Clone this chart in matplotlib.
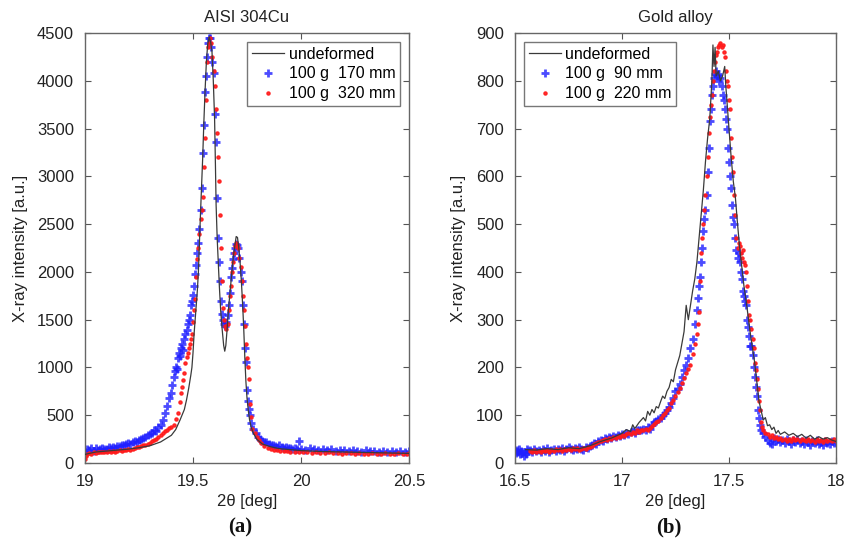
import matplotlib
matplotlib.use("Agg")
import matplotlib.pyplot as plt
import numpy as np

plt.rcParams['font.family'] = ['Liberation Sans', 'DejaVu Sans']

# AISI 304Cu: (2theta, intensity)
steel_undeformed = np.array([
    (19.00,90),(19.05,115),(19.10,125),(19.15,135),(19.20,145),(19.25,160),(19.30,180),(19.35,220),(19.40,290),(19.42,350),
    (19.44,450),(19.46,560),(19.47,660),(19.48,780),(19.49,920),(19.495,1000),(19.50,1150),(19.505,1350),(19.51,1500),(19.52,1800),
    (19.525,2000),(19.532,2450),(19.538,2800),(19.545,3200),(19.55,3550),(19.556,3900),(19.562,4200),(19.568,4380),(19.575,4460),(19.582,4400),
    (19.588,4300),(19.594,4000),(19.60,3600),(19.604,3100),(19.607,2700),(19.612,2350),(19.617,2100),(19.622,1850),(19.628,1600),(19.635,1400),
    (19.642,1230),(19.647,1170),(19.652,1230),(19.658,1400),(19.664,1600),(19.67,1750),(19.676,1900),(19.682,2050),(19.688,2180),(19.694,2280),
    (19.70,2370),(19.706,2360),(19.712,2250),(19.718,2100),(19.724,1900),(19.73,1650),(19.735,1400),(19.74,1100),(19.745,850),(19.75,680),
    (19.756,550),(19.762,450),(19.77,370),(19.78,310),(19.795,250),(19.82,200),(19.86,170),(19.90,150),(19.95,140),(20.00,130),
    (20.10,120),(20.20,115),(20.30,110),(20.40,105),(20.50,100)])

steel_170mm = np.array([
    (19.00,120),(19.01,150),(19.02,140),(19.03,160),(19.04,130),(19.05,155),(19.06,140),(19.07,150),(19.08,160),(19.09,145),
    (19.10,150),(19.11,165),(19.12,155),(19.13,170),(19.14,160),(19.15,175),(19.16,180),(19.17,190),(19.18,185),(19.19,200),
    (19.20,210),(19.21,195),(19.22,215),(19.23,225),(19.24,220),(19.25,240),(19.26,250),(19.27,260),(19.28,270),(19.29,290),
    (19.30,300),(19.31,310),(19.32,340),(19.33,330),(19.34,380),(19.35,400),(19.36,450),(19.37,520),(19.38,600),(19.39,680),
    (19.400,730),(19.405,820),(19.410,900),(19.415,960),(19.420,1000),(19.425,980),(19.430,1100),(19.435,1150),(19.440,1120),(19.445,1200),
    (19.450,1250),(19.455,1180),(19.460,1300),(19.465,1350),(19.470,1390),(19.475,1450),(19.480,1500),(19.485,1550),(19.490,1650),(19.495,1700),
    (19.500,1760),(19.505,1850),(19.510,1980),(19.515,2070),(19.520,2200),(19.525,2300),(19.530,2450),(19.535,2650),(19.540,2880),(19.545,3240),
    (19.550,3540),(19.555,3880),(19.560,4050),(19.565,4250),(19.570,4400),(19.575,4450),(19.580,4450),(19.585,4350),(19.590,4200),(19.595,4080),
    (19.600,3650),(19.605,3360),(19.610,2770),(19.615,2350),(19.620,2100),(19.625,1900),(19.630,1700),(19.635,1560),(19.640,1500),(19.645,1450),
    (19.650,1430),(19.655,1480),(19.660,1550),(19.665,1650),(19.670,1780),(19.675,1950),(19.680,2040),(19.685,2140),(19.690,2200),(19.695,2250),
    (19.700,2290),(19.705,2280),(19.710,2250),(19.715,2150),(19.720,2000),(19.725,1900),(19.730,1650),(19.735,1450),(19.740,1200),(19.745,1060),
    (19.750,760),(19.755,650),(19.760,560),(19.765,500),(19.770,420),(19.780,360),(19.790,310),(19.800,275),(19.810,250),(19.820,230),
    (19.83,220),(19.84,215),(19.85,200),(19.86,190),(19.87,185),(19.88,180),(19.89,170),(19.90,185),(19.91,165),(19.92,160),
    (19.93,170),(19.94,155),(19.95,160),(19.96,150),(19.97,155),(19.98,145),(19.99,230),(20.00,150),(20.02,140),(20.04,155),
    (20.06,145),(20.08,140),(20.10,150),(20.12,135),(20.14,145),(20.16,130),(20.18,140),(20.20,135),(20.22,125),(20.24,140),
    (20.26,130),(20.28,120),(20.30,135),(20.32,125),(20.34,130),(20.36,115),(20.38,125),(20.40,120),(20.42,130),(20.44,115),
    (20.46,125),(20.48,120),(20.50,125)])

steel_320mm = np.array([
    (19.000,40),(19.005,70),(19.01,90),(19.02,100),(19.03,95),(19.04,110),(19.05,105),(19.06,115),(19.07,110),(19.08,120),
    (19.09,115),(19.10,120),(19.11,125),(19.12,115),(19.13,130),(19.14,120),(19.15,125),(19.16,135),(19.17,130),(19.18,140),
    (19.19,135),(19.20,145),(19.21,140),(19.22,150),(19.23,160),(19.24,165),(19.25,170),(19.26,175),(19.27,185),(19.28,190),
    (19.29,200),(19.30,210),(19.31,225),(19.32,240),(19.33,255),(19.34,270),(19.35,290),(19.36,310),(19.37,330),(19.38,350),
    (19.39,370),(19.40,380),(19.41,400),(19.42,460),(19.43,520),(19.44,640),(19.445,730),(19.450,800),(19.455,870),(19.460,940),
    (19.465,1050),(19.470,1110),(19.475,1150),(19.480,1200),(19.485,1250),(19.490,1300),(19.495,1350),(19.500,1480),(19.505,1600),(19.510,1720),
    (19.515,1950),(19.520,2140),(19.525,2250),(19.530,2400),(19.535,2550),(19.540,2650),(19.545,2780),(19.550,3100),(19.555,3400),(19.560,3800),
    (19.565,4200),(19.570,4350),(19.575,4400),(19.580,4450),(19.585,4400),(19.590,4250),(19.595,4100),(19.600,3950),(19.605,3700),(19.610,3450),
    (19.615,3200),(19.620,2950),(19.625,2600),(19.630,2250),(19.635,1900),(19.640,1620),(19.645,1500),(19.650,1430),(19.655,1400),(19.660,1450),
    (19.665,1600),(19.670,1750),(19.675,1850),(19.680,2000),(19.685,2100),(19.690,2200),(19.695,2270),(19.700,2300),(19.705,2280),(19.710,2250),
    (19.715,2150),(19.720,2050),(19.725,1900),(19.730,1750),(19.735,1600),(19.740,1430),(19.745,1250),(19.750,1100),(19.755,1000),(19.760,880),
    (19.765,620),(19.770,480),(19.775,360),(19.785,310),(19.795,275),(19.805,240),(19.815,210),(19.830,175),(19.845,160),(19.860,150),
    (19.875,140),(19.890,135),(19.905,130),(19.920,125),(19.935,130),(19.950,120),(19.970,115),(19.990,120),(20.010,110),(20.030,115),
    (20.050,105),(20.070,110),(20.090,100),(20.110,105),(20.130,110),(20.150,100),(20.170,105),(20.190,95),(20.210,100),(20.230,105),
    (20.250,95),(20.270,100),(20.290,90),(20.310,95),(20.330,100),(20.350,90),(20.370,95),(20.390,100),(20.410,90),(20.430,95),
    (20.450,100),(20.470,90),(20.490,95),(20.500,100)])

# Gold alloy: (2theta, intensity)
gold_undeformed = np.array([
    (16.55,28),(16.60,27),(16.65,30),(16.70,28),(16.75,32),(16.80,30),(16.85,36),(16.90,45),(16.95,52),(17.00,62),
    (17.02,70),(17.04,66),(17.05,80),(17.06,72),(17.08,85),(17.10,95),(17.11,88),(17.12,108),(17.13,100),(17.14,112),
    (17.15,105),(17.16,118),(17.17,115),(17.18,128),(17.19,140),(17.20,135),(17.21,150),(17.22,158),(17.23,175),(17.24,170),
    (17.25,195),(17.26,210),(17.27,225),(17.28,250),(17.29,275),(17.30,330),(17.305,315),(17.31,300),(17.32,330),(17.33,360),
    (17.34,385),(17.35,420),(17.36,470),(17.37,520),(17.38,570),(17.39,630),(17.40,680),(17.41,720),(17.42,800),(17.425,875),
    (17.43,830),(17.435,870),(17.44,810),(17.45,820),(17.46,800),(17.47,810),(17.48,830),(17.485,790),(17.49,760),(17.50,700),
    (17.51,640),(17.52,590),(17.53,555),(17.54,500),(17.55,450),(17.56,410),(17.57,370),(17.58,340),(17.59,305),(17.60,270),
    (17.61,240),(17.62,210),(17.63,170),(17.64,130),(17.65,110),(17.66,90),(17.67,95),(17.68,78),(17.69,80),(17.70,70),
    (17.71,75),(17.72,62),(17.73,68),(17.74,60),(17.76,65),(17.78,58),(17.80,62),(17.82,55),(17.84,60),(17.86,52),
    (17.88,58),(17.90,50),(17.92,55),(17.94,50),(17.96,53),(17.98,48),(18.00,45)])

gold_90mm = np.array([
    (16.500,25),(16.505,20),(16.510,28),(16.515,22),(16.520,30),(16.525,18),(16.530,25),(16.535,20),(16.540,15),(16.545,22),
    (16.550,18),(16.555,30),(16.560,25),(16.570,28),(16.580,22),(16.590,30),(16.600,25),(16.610,28),(16.620,22),(16.630,30),
    (16.640,26),(16.650,32),(16.660,24),(16.670,28),(16.680,30),(16.690,26),(16.700,30),(16.710,28),(16.720,32),(16.730,26),
    (16.740,30),(16.750,34),(16.760,30),(16.770,28),(16.780,32),(16.790,30),(16.800,34),(16.810,30),(16.820,28),(16.830,34),
    (16.840,32),(16.850,36),(16.860,38),(16.870,42),(16.880,40),(16.890,45),(16.900,48),(16.910,46),(16.920,52),(16.930,50),
    (16.940,55),(16.950,52),(16.960,56),(16.970,54),(16.980,58),(16.990,56),(17.000,60),(17.010,58),(17.020,62),(17.030,60),
    (17.040,64),(17.050,66),(17.060,62),(17.070,68),(17.080,70),(17.090,68),(17.100,72),(17.110,70),(17.120,75),(17.130,72),
    (17.140,80),(17.150,85),(17.160,88),(17.170,92),(17.180,95),(17.190,100),(17.200,105),(17.210,110),(17.220,118),(17.230,125),
    (17.240,135),(17.250,150),(17.260,155),(17.270,165),(17.280,180),(17.290,195),(17.300,205),(17.310,220),(17.320,240),(17.330,260),
    (17.340,290),(17.350,320),(17.355,345),(17.360,370),(17.365,390),(17.370,420),(17.375,450),(17.380,485),(17.385,510),(17.390,530),
    (17.395,560),(17.400,610),(17.405,660),(17.410,715),(17.415,740),(17.420,770),(17.425,790),(17.430,805),(17.435,815),(17.440,820),
    (17.445,810),(17.450,815),(17.455,800),(17.460,805),(17.465,790),(17.470,770),(17.475,760),(17.480,740),(17.485,720),(17.490,700),
    (17.495,660),(17.500,630),(17.505,600),(17.510,575),(17.515,540),(17.520,515),(17.525,500),(17.530,470),(17.535,445),(17.540,430),
    (17.545,440),(17.550,420),(17.555,400),(17.560,385),(17.565,360),(17.570,350),(17.575,340),(17.580,330),(17.585,300),(17.590,285),
    (17.595,265),(17.600,245),(17.605,245),(17.610,225),(17.615,200),(17.620,180),(17.625,160),(17.630,140),(17.635,110),(17.640,95),
    (17.645,80),(17.650,70),(17.660,62),(17.670,55),(17.680,48),(17.690,42),(17.700,40),(17.710,52),(17.720,45),(17.730,50),
    (17.740,44),(17.750,48),(17.760,42),(17.770,50),(17.780,46),(17.790,40),(17.800,48),(17.810,44),(17.820,50),(17.830,42),
    (17.840,46),(17.850,40),(17.860,48),(17.870,44),(17.880,38),(17.890,46),(17.900,42),(17.910,48),(17.920,40),(17.930,44),
    (17.940,38),(17.950,46),(17.960,42),(17.970,40),(17.980,45),(17.990,42),(18.000,44)])

gold_220mm = np.array([
    (16.570,25),(16.580,22),(16.590,28),(16.600,24),(16.610,26),(16.620,22),(16.630,28),(16.640,25),(16.650,27),(16.660,24),
    (16.670,28),(16.680,26),(16.690,30),(16.700,27),(16.710,29),(16.720,26),(16.730,30),(16.740,28),(16.750,30),(16.760,27),
    (16.770,31),(16.780,29),(16.790,32),(16.800,28),(16.810,30),(16.820,32),(16.830,30),(16.840,34),(16.850,33),(16.860,36),
    (16.870,40),(16.880,42),(16.890,44),(16.900,46),(16.910,48),(16.920,50),(16.930,48),(16.940,52),(16.950,50),(16.960,54),
    (16.970,52),(16.980,56),(16.990,55),(17.000,58),(17.010,56),(17.020,60),(17.030,62),(17.040,60),(17.050,65),(17.060,62),
    (17.070,68),(17.080,65),(17.090,70),(17.100,68),(17.110,72),(17.120,70),(17.130,74),(17.140,78),(17.150,82),(17.160,86),
    (17.170,88),(17.180,95),(17.190,100),(17.200,105),(17.210,110),(17.220,116),(17.230,125),(17.240,132),(17.250,140),(17.260,148),
    (17.270,158),(17.280,168),(17.290,178),(17.300,188),(17.310,196),(17.320,205),(17.330,228),(17.340,250),(17.350,270),(17.355,290),
    (17.360,315),(17.365,380),(17.370,440),(17.375,470),(17.380,500),(17.385,530),(17.390,560),(17.395,600),(17.400,640),(17.405,690),
    (17.410,725),(17.415,750),(17.420,770),(17.425,800),(17.430,820),(17.435,840),(17.440,855),(17.445,860),(17.450,870),(17.455,875),
    (17.460,880),(17.465,870),(17.470,875),(17.475,860),(17.480,850),(17.485,820),(17.490,800),(17.495,790),(17.500,760),(17.505,740),
    (17.510,680),(17.515,640),(17.520,610),(17.525,560),(17.530,520),(17.535,470),(17.540,450),(17.545,460),(17.550,455),(17.555,440),
    (17.560,430),(17.565,445),(17.570,420),(17.575,415),(17.580,400),(17.585,370),(17.590,340),(17.595,310),(17.600,300),(17.605,280),
    (17.610,260),(17.615,240),(17.620,210),(17.625,195),(17.630,175),(17.635,155),(17.640,130),(17.645,110),(17.650,85),(17.655,75),
    (17.660,68),(17.670,62),(17.680,60),(17.690,55),(17.700,58),(17.710,52),(17.720,55),(17.730,50),(17.740,52),(17.750,48),
    (17.760,50),(17.770,46),(17.780,50),(17.790,47),(17.800,52),(17.810,48),(17.820,50),(17.830,46),(17.840,50),(17.850,48),
    (17.860,45),(17.870,50),(17.880,46),(17.890,48),(17.900,44),(17.910,50),(17.920,46),(17.930,48),(17.940,44),(17.950,50),
    (17.960,46),(17.970,48),(17.980,45),(17.990,50),(18.000,46)])

steel_labels = ["undeformed", "100 g  170 mm", "100 g  320 mm"]
gold_labels = ["undeformed", "100 g  90 mm", "100 g  220 mm"]
steel_xticks = [19, 19.5, 20, 20.5]
steel_yticks = [0, 500, 1000, 1500, 2000, 2500, 3000, 3500, 4000, 4500]
gold_xticks = [16.5, 17, 17.5, 18]
gold_yticks = [0, 100, 200, 300, 400, 500, 600, 700, 800, 900]


def draw_panel(ax, line, blue, red, labels, xticks, yticks, title, legend_loc):
    ax.plot(line[:, 0], line[:, 1], color='#3a3a3a', lw=0.9, label=labels[0], zorder=3)
    ax.plot(blue[:, 0], blue[:, 1], ls='none', marker='+', ms=5.5, mew=2.0,
            color='#1f1fff', alpha=0.8, label=labels[1], zorder=2)
    ax.plot(red[:, 0], red[:, 1], ls='none', marker='.', ms=4.5,
            color='#ff1a1a', alpha=0.9, label=labels[2], zorder=2)
    ax.set_xlim(xticks[0], xticks[-1])
    ax.set_ylim(yticks[0], yticks[-1])
    ax.set_xticks(xticks)
    ax.set_xticklabels([('%g' % v) for v in xticks])
    ax.set_yticks(yticks)
    ax.tick_params(direction='in', top=True, right=True, length=4, width=0.8,
                   labelsize=12, colors='#555555', labelcolor='#222222')
    ax.tick_params(axis='x', pad=8)
    ax.tick_params(axis='y', pad=8)
    for s in ax.spines.values():
        s.set_color('#666666')
        s.set_linewidth(1.0)
    ax.set_title(title, fontsize=12, color='#222222', pad=8)
    leg = ax.legend(loc=legend_loc, fontsize=11.5, frameon=True, fancybox=False,
                    handlelength=2.0, handletextpad=0.3, labelspacing=0.3,
                    borderpad=0.3, borderaxespad=0.55)
    leg.get_frame().set_edgecolor('#555555')
    leg.get_frame().set_linewidth(1.0)


fig = plt.figure(figsize=(8.44, 5.41), dpi=100)
ax1 = fig.add_axes([0.1007, 0.1442, 0.3839, 0.7948])
ax2 = fig.add_axes([0.6102, 0.1442, 0.3803, 0.7948])

draw_panel(ax1, steel_undeformed, steel_170mm, steel_320mm, steel_labels,
           steel_xticks, steel_yticks, "AISI 304Cu", "upper right")
draw_panel(ax2, gold_undeformed, gold_90mm, gold_220mm, gold_labels,
           gold_xticks, gold_yticks, "Gold alloy", "upper left")

for ax, ylab_x, tag in [(ax1, -0.2, "(a)"), (ax2, -0.175, "(b)")]:
    ax.text(ylab_x, 0.5, "X-ray intensity [a.u.]", rotation=90, ha='center', va='center',
            fontsize=12, color='#222222', transform=ax.transAxes)
    ax.text(0.5, -0.09, "2θ [deg]", ha='center', va='center',
            fontsize=12, color='#222222', transform=ax.transAxes)
    ax.text(0.48, -0.149, tag, ha='center', va='center', fontsize=15,
            fontweight='bold', family='Liberation Serif', color='#111111',
            transform=ax.transAxes)

fig.savefig("out.png", dpi=100)
